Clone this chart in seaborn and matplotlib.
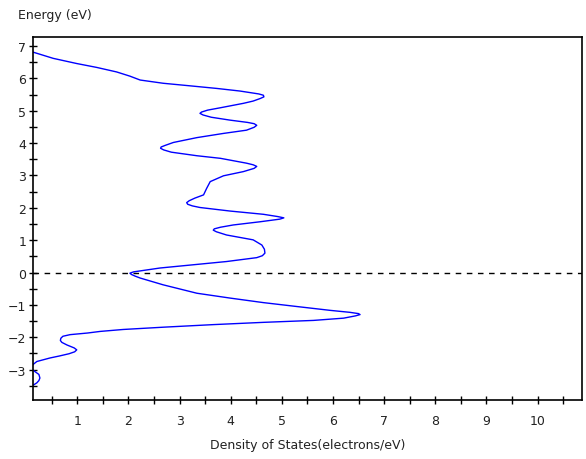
import matplotlib
matplotlib.use("Agg")
import matplotlib.pyplot as plt
from matplotlib.ticker import MultipleLocator
import seaborn as sns
import pandas as pd

energy = [6.82, 6.62, 6.46, 6.34, 6.20, 6.07, 5.95, 5.85, 5.77, 5.69, 5.61, 5.52, 5.48,
          5.43, 5.38, 5.30, 5.23, 5.09, 5.02, 4.96, 4.92, 4.87, 4.80, 4.71, 4.64, 4.60,
          4.55, 4.49, 4.40, 4.30, 4.17, 4.02, 3.93, 3.88, 3.84, 3.79, 3.72, 3.61, 3.53,
          3.38, 3.33, 3.28, 3.22, 3.12, 2.99, 2.81, 2.60, 2.40, 2.30, 2.22, 2.16, 2.11,
          2.06, 2.01, 1.90, 1.80, 1.73, 1.69, 1.65, 1.57, 1.47, 1.40, 1.35, 1.31, 1.26,
          1.16, 1.01, 0.85, 0.72, 0.60, 0.52, 0.46, 0.34, 0.24, 0.14, 0.05, 0.02, -0.02,
          -0.06, -0.11, -0.17, -0.38, -0.64, -0.79, -0.93, -1.05, -1.17, -1.23, -1.27,
          -1.30, -1.34, -1.41, -1.48, -1.54, -1.61, -1.69, -1.76, -1.82, -1.87, -1.92,
          -1.97, -2.03, -2.10, -2.16, -2.24, -2.33, -2.39, -2.45, -2.51, -2.58, -2.64,
          -2.75, -2.85, -2.93, -3.00, -3.07, -3.15, -3.26, -3.34, -3.41, -3.47, -3.50]
dos = [0.12, 0.53, 0.99, 1.38, 1.77, 2.03, 2.23, 2.68, 3.21, 3.73, 4.18, 4.55, 4.64,
       4.65, 4.58, 4.44, 4.25, 3.79, 3.55, 3.43, 3.40, 3.46, 3.62, 3.99, 4.33, 4.46,
       4.51, 4.46, 4.31, 3.86, 3.34, 2.88, 2.72, 2.64, 2.63, 2.69, 2.84, 3.34, 3.80,
       4.31, 4.44, 4.51, 4.46, 4.25, 3.86, 3.60, 3.53, 3.47, 3.30, 3.19, 3.14, 3.16,
       3.25, 3.40, 3.99, 4.64, 4.92, 5.04, 4.96, 4.58, 4.05, 3.80, 3.68, 3.66, 3.72,
       3.92, 4.44, 4.61, 4.66, 4.67, 4.62, 4.51, 3.92, 3.27, 2.62, 2.23, 2.10, 2.03,
       2.06, 2.13, 2.23, 2.68, 3.34, 3.99, 4.64, 5.29, 5.95, 6.33, 6.50,
       6.53, 6.44, 6.21, 5.62, 4.64, 3.66, 2.68, 1.90, 1.45, 1.20, 0.86,
       0.72, 0.68, 0.67, 0.70, 0.80, 0.94, 0.99, 0.95, 0.84, 0.65, 0.47,
       0.21, 0.13, 0.11, 0.12, 0.18, 0.25, 0.27, 0.25, 0.21, 0.15, 0.11]

x_ticks = [1, 2, 3, 4, 5, 6, 7, 8, 9, 10]
y_ticks = [-3, -2, -1, 0, 1, 2, 3, 4, 5, 6, 7]

sns.set_style("white")
plt.rcParams['font.family'] = ['DejaVu Sans']

df = pd.DataFrame({"dos": dos, "energy": energy})

fig = plt.figure(figsize=(5.86, 4.60), dpi=100)
ax = fig.add_axes([33/586, 59/460, 549/586, 363/460])

sns.lineplot(data=df, x="dos", y="energy", sort=False, estimator=None,
             color="#0000ff", linewidth=1.0, ax=ax)
ax.axhline(0, color="black", linestyle=(0, (4, 4)), linewidth=1.0)

ax.set_xlim(0.135, 10.87)
ax.set_ylim(-3.94, 7.28)
ax.set_xticks(x_ticks)
ax.set_yticks(y_ticks)
ax.xaxis.set_minor_locator(MultipleLocator(0.5))
ax.yaxis.set_minor_locator(MultipleLocator(0.5))
ax.tick_params(axis="both", which="both", direction="inout", length=6, width=1,
               color="black", labelsize=9, labelcolor="#222222",
               bottom=True, left=True, top=False, right=False)
ax.tick_params(axis="x", which="major", pad=7)
ax.tick_params(axis="y", which="major", pad=2)
for s in ax.spines.values():
    s.set_color("black")
    s.set_linewidth(1.2)
    s.set_visible(True)

ax.set_xlabel("Density of States(electrons/eV)", fontsize=9, color="#222222", labelpad=8)
ax.set_ylabel("")
fig.text(18/586, 1 - 15/460, "Energy (eV)", fontsize=9, color="#222222",
         ha="left", va="center")

fig.savefig("out.png", dpi=100)
